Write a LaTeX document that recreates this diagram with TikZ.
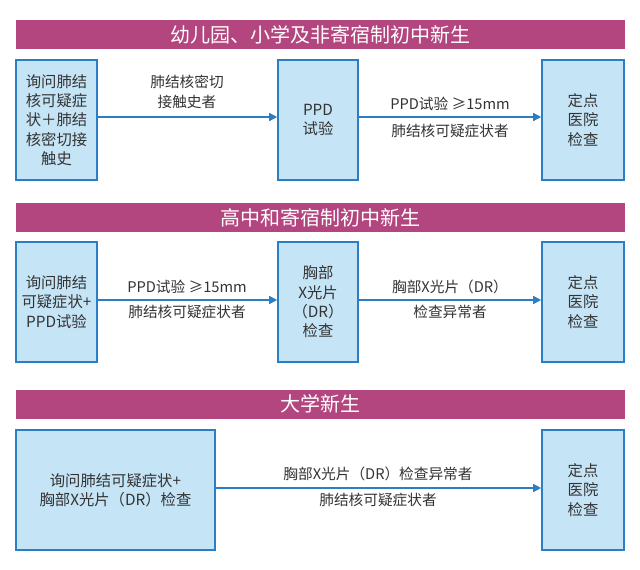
\documentclass[tikz,border=0pt]{standalone}
\usepackage{fontspec}
\setmainfont{Noto Sans CJK SC}
\usetikzlibrary{arrows.meta}
\definecolor{hdr}{HTML}{B3457F}
\definecolor{bfill}{HTML}{C5E4F6}
\definecolor{bline}{HTML}{2A7FC4}
\definecolor{txt}{HTML}{333333}
\tikzset{
  hdrbar/.style={fill=hdr,draw=none,text=white,font=\fontsize{15}{18}\selectfont,inner sep=0},
  box/.style={fill=bfill,draw=bline,line width=1.2pt,text=txt,font=\fontsize{11.5}{14.5}\selectfont,align=center,inner sep=0},
  lbl/.style={text=txt,font=\fontsize{11}{14.5}\selectfont,align=center},
  arr/.style={draw=bline,line width=1pt,-{Triangle[length=6pt,width=6pt]}}
}
\begin{document}
\begin{tikzpicture}[x=0.75pt,y=-0.75pt]
\useasboundingbox[fill=white] (0,0) rectangle (640,569);
% section 1
\node[hdrbar,minimum width=609*0.75pt,minimum height=29*0.75pt] (h1) at (320.5,34.5) {幼儿园、小学及非寄宿制初中新生};
\node[box,minimum width=81*0.75pt,minimum height=120*0.75pt] (a1) at (56.5,120) {询问肺结\\核可疑症\\状＋肺结\\核密切接\\触史};
\node[box,minimum width=80*0.75pt,minimum height=120*0.75pt] (b1) at (318,120) {PPD\\试验};
\node[box,minimum width=82*0.75pt,minimum height=120*0.75pt] (c1) at (583,120) {定点\\医院\\检查};
\draw[arr] (a1.east |- 0,117) -- (b1.west |- 0,117);
\draw[arr] (b1.east |- 0,117) -- (c1.west |- 0,117);
\node[lbl] (l1) at (187,92) {肺结核密切\\接触史者};
\node[lbl] (l2) at (450,104) {PPD试验 ≥15mm};
\node[lbl] (l3) at (450,131) {肺结核可疑症状者};
% section 2
\node[hdrbar,minimum width=609*0.75pt,minimum height=29*0.75pt] (h2) at (320.5,217.5) {高中和寄宿制初中新生};
\node[box,minimum width=81*0.75pt,minimum height=120*0.75pt] (a2) at (56.5,302) {询问肺结\\可疑症状+\\PPD试验};
\node[box,minimum width=80*0.75pt,minimum height=120*0.75pt] (b2) at (318,302) {胸部\\X光片\\（DR）\\检查};
\node[box,minimum width=82*0.75pt,minimum height=120*0.75pt] (c2) at (583,302) {定点\\医院\\检查};
\draw[arr] (a2.east |- 0,300) -- (b2.west |- 0,300);
\draw[arr] (b2.east |- 0,300) -- (c2.west |- 0,300);
\node[lbl] (l4) at (187,287) {PPD试验 ≥15mm};
\node[lbl] (l5) at (187,312) {肺结核可疑症状者};
\node[lbl] (l6) at (450,287) {胸部X光片（DR）};
\node[lbl] (l7) at (450,312) {检查异常者};
% section 3
\node[hdrbar,minimum width=609*0.75pt,minimum height=29*0.75pt] (h3) at (320.5,404) {大学新生};
\node[box,minimum width=199*0.75pt,minimum height=120*0.75pt] (a3) at (115.5,490) {询问肺结可疑症状+\\胸部X光片（DR）检查};
\node[box,minimum width=82*0.75pt,minimum height=120*0.75pt] (c3) at (583,490) {定点\\医院\\检查};
\draw[arr] (a3.east |- 0,488) -- (c3.west |- 0,488);
\node[lbl] (l8) at (378,474) {胸部X光片（DR）检查异常者};
\node[lbl] (l9) at (378,500) {肺结核可疑症状者};
\end{tikzpicture}
\end{document}
